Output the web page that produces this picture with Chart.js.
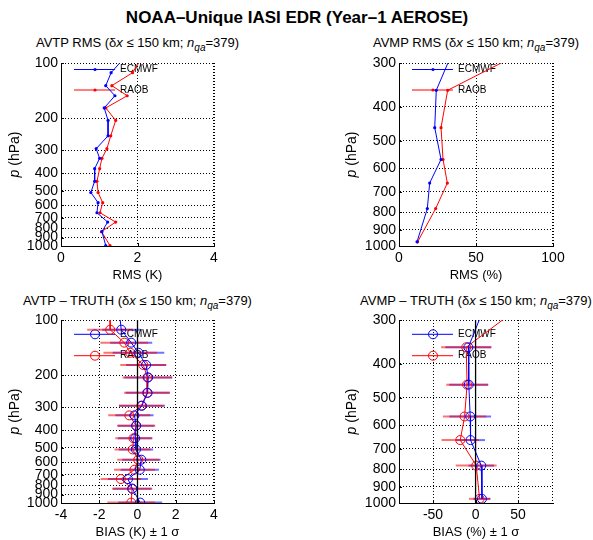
<!DOCTYPE html>
<html>
<head>
<meta charset="utf-8">
<script src="https://cdn.jsdelivr.net/npm/chart.js@4.4.1/dist/chart.umd.min.js"></script>
<style>
  body { margin: 0; background: #fff; font-family: 'Liberation Sans', Arial, sans-serif; }
  #page { position: relative; width: 593px; height: 540px; overflow: hidden; background: #fff; }
  canvas { position: absolute; }
  .ttl { position: absolute; font-size: 13px; white-space: nowrap; transform: translate(-50%, -50%); line-height: 16px; }
  .ttl sub { font-size: 10px; vertical-align: baseline; position: relative; top: 4px; }
  #main { position: absolute; left: 297px; top: 18px; transform: translate(-50%, -50%); font-weight: bold; font-size: 17px; white-space: nowrap; }
</style>
</head>
<body>
<div id="page">
  <div id="main">NOAA–Unique IASI EDR (Year–1 AEROSE)</div>
  <div class="ttl" style="left:137.5px;top:42.7px">AVTP RMS (δ<i>x</i> ≤ 150 km; <i>n</i><sub><i>qa</i></sub>=379)</div>
  <div class="ttl" style="left:476px;top:42.7px">AVMP RMS (δ<i>x</i> ≤ 150 km; <i>n</i><sub><i>qa</i></sub>=379)</div>
  <div class="ttl" style="left:137.5px;top:300.7px">AVTP – TRUTH (δ<i>x</i> ≤ 150 km; <i>n</i><sub><i>qa</i></sub>=379)</div>
  <div class="ttl" style="left:476px;top:300.7px">AVMP – TRUTH (δ<i>x</i> ≤ 150 km; <i>n</i><sub><i>qa</i></sub>=379)</div>
</div>
<script>
// pressure levels (hPa); first level sits above the plotted range and is clipped
const tLevels = [90, 113, 133, 151, 176, 206, 250, 294, 332, 378, 443, 510, 580, 658, 740, 835, 995];
const qLevels = [260, 359, 459, 566, 661, 782, 973];

// temperature RMS (K)
const tRmsEcmwf = [1.73, 1.31, 1.17, 1.41, 1.13, 1.23, 1.23, 0.92, 1.01, 0.88, 0.88, 0.78, 0.97, 0.94, 1.22, 1.07, 1.17];
const tRmsRaob  = [2.17, 1.87, 1.33, 1.73, 1.17, 1.43, 1.30, 1.20, 1.07, 1.01, 0.94, 0.97, 1.09, 1.02, 1.43, 1.06, 1.28];

// moisture RMS (%)
const qRmsEcmwf = [37.8, 24.2, 23.2, 27.3, 19.9, 18.4, 11.7];
const qRmsRaob  = [94.0, 31.6, 27.3, 28.6, 31.4, 23.8, 12.1];

// temperature bias (K) and 1 sigma
const tBiasEcmwf  = [-0.95, -0.85, -0.33, 0.05, 0.45, 0.56, 0.53, 0.23, -0.16, -0.07, -0.12, -0.08, 0.20, 0.12, -0.50, -0.27, 0.14];
const tBiasRaob   = [-1.43, -1.43, -0.69, -0.38, 0.30, 0.52, 0.50, 0.20, -0.43, -0.07, -0.21, -0.25, 0.04, -0.16, -0.87, -0.28, -0.33];
const tSigmaEcmwf = [1.00, 1.00, 1.10, 1.35, 1.05, 1.25, 1.15, 1.20, 1.00, 0.95, 0.90, 0.90, 1.00, 1.00, 1.05, 1.00, 1.15];
const tSigmaRaob  = [1.20, 1.20, 1.25, 1.40, 1.20, 1.30, 1.20, 1.17, 1.10, 1.00, 0.95, 0.95, 1.10, 1.07, 1.06, 1.05, 1.25];

// moisture bias (%) and 1 sigma
const qBiasEcmwf  = [14.5, -8.5, -8.0, -6.3, -5.9, 6.7, 7.5];
const qBiasRaob   = [65.7, -11.0, -10.0, -12.9, -18.0, 0.8, 4.7];
const qSigmaEcmwf = [20, 27, 23, 24.5, 17, 15, 10];
const qSigmaRaob  = [30, 29.5, 24.5, 25.5, 22, 24, 12.5];

const tTicks = [100, 200, 300, 400, 500, 600, 700, 800, 900, 1000];
const qTicks = [300, 400, 500, 600, 700, 800, 900, 1000];

const FONT = "'Liberation Sans', Arial, sans-serif";
Chart.defaults.font.family = FONT;
Chart.defaults.font.size = 14;
Chart.defaults.color = '#000';

const BLUE = '#0000ff';
const RED = '#ff0000';

function pts(levels, vals) {
    return levels.map((p, i) => ({ x: vals[i], y: p }));
}

// legend drawn inside the axes, behind the data
function legendPlugin(entries, circles) {
    return {
        id: 'inlegend',
        beforeDatasetsDraw(chart) {
            const { ctx, chartArea: a } = chart;
            ctx.save();
            entries.forEach((e) => {
                const y = a.top + e.dy;
                ctx.strokeStyle = e.color;
                ctx.lineWidth = 1;
                ctx.beginPath();
                ctx.moveTo(a.left + 13, y);
                ctx.lineTo(a.left + 54, y);
                ctx.stroke();
                ctx.beginPath();
                if (circles) {
                    ctx.arc(a.left + 34, y, 4.5, 0, Math.PI * 2);
                    ctx.stroke();
                } else {
                    ctx.fillStyle = e.color;
                    ctx.arc(a.left + 34, y, 1.6, 0, Math.PI * 2);
                    ctx.fill();
                }
                ctx.fillStyle = '#000';
                ctx.font = '10px ' + FONT;
                ctx.textBaseline = 'middle';
                ctx.fillText(e.label, a.left + 59, y);
            });
            ctx.restore();
        },
    };
}

function errorBarPlugin(sets) {
    return {
        id: 'errbars',
        beforeDatasetsDraw(chart) {
            const { ctx, chartArea: a, scales } = chart;
            ctx.save();
            ctx.beginPath();
            ctx.rect(a.left, a.top, a.width, a.height);
            ctx.clip();
            sets.forEach((s) => {
                ctx.strokeStyle = s.color;
                ctx.lineWidth = 2;
                s.levels.forEach((p, i) => {
                    const py = scales.y.getPixelForValue(p);
                    ctx.beginPath();
                    ctx.moveTo(scales.x.getPixelForValue(s.bias[i] - s.sigma[i]), py);
                    ctx.lineTo(scales.x.getPixelForValue(s.bias[i] + s.sigma[i]), py);
                    ctx.stroke();
                });
            });
            ctx.restore();
        },
    };
}

function framePlugin(yLabelX, zeroLine) {
    return {
        id: 'frame',
        afterDatasetsDraw(chart) {
            const { ctx, chartArea: a, scales } = chart;
            ctx.save();
            if (zeroLine) {
                const x0 = scales.x.getPixelForValue(0);
                ctx.strokeStyle = '#000';
                ctx.lineWidth = 1.3;
                ctx.beginPath();
                ctx.moveTo(x0, a.top);
                ctx.lineTo(x0, a.bottom);
                ctx.stroke();
            }
            ctx.strokeStyle = '#000';
            ctx.lineWidth = 1;
            // small inward ticks, matlab style
            ctx.beginPath();
            scales.y.ticks.forEach((t) => {
                const py = Math.round(scales.y.getPixelForValue(t.value)) + 0.5;
                ctx.moveTo(a.left, py);
                ctx.lineTo(a.left + 3, py);
            });
            scales.x.ticks.forEach((t) => {
                const px = Math.round(scales.x.getPixelForValue(t.value)) + 0.5;
                ctx.moveTo(px, a.bottom);
                ctx.lineTo(px, a.bottom - 3);
            });
            ctx.stroke();
            // dotted right edge
            ctx.setLineDash([1, 2]);
            ctx.beginPath();
            ctx.moveTo(a.right - 0.5, a.top);
            ctx.lineTo(a.right - 0.5, a.bottom);
            ctx.stroke();
            ctx.setLineDash([]);
            // y axis title: italic p + (hPa)
            ctx.translate(yLabelX, (a.top + a.bottom) / 2);
            ctx.rotate(-Math.PI / 2);
            ctx.textBaseline = 'middle';
            ctx.font = 'italic 14px ' + FONT;
            const w1 = ctx.measureText('p').width;
            ctx.font = '14px ' + FONT;
            const w2 = ctx.measureText(' (hPa)').width;
            const x = -(w1 + w2) / 2;
            ctx.font = 'italic 14px ' + FONT;
            ctx.fillText('p', x, 0);
            ctx.font = '14px ' + FONT;
            ctx.fillText(' (hPa)', x + w1, 0);
            ctx.restore();
        },
    };
}

function panel(p) {
    const cv = document.createElement('canvas');
    cv.width = p.w;
    cv.height = p.h;
    cv.style.left = p.left + 'px';
    cv.style.top = p.top + 'px';
    cv.style.width = p.w + 'px';
    cv.style.height = p.h + 'px';
    document.getElementById('page').appendChild(cv);

    const gridOpts = { color: '#000', lineWidth: 1, drawTicks: false };
    const borderOpts = { color: '#000', width: 1, dash: [1, 2] };

    return new Chart(cv, {
        type: 'scatter',
        data: { datasets: p.datasets },
        options: {
            responsive: false,
            animation: false,
            events: [],
            layout: { padding: { left: 0, top: p.padTop, right: p.padRight, bottom: 0 } },
            plugins: { legend: { display: false }, tooltip: { enabled: false } },
            scales: {
                x: {
                    type: 'linear',
                    min: p.xMin,
                    max: p.xMax,
                    afterBuildTicks: (s) => { s.ticks = p.xTicks.map((v) => ({ value: v })); },
                    afterFit: (s) => { s.height = p.xAxisH; },
                    ticks: { padding: 4, autoSkip: false, maxRotation: 0 },
                    grid: gridOpts,
                    border: borderOpts,
                    title: { display: true, text: p.xTitle, font: { size: 13 }, padding: 0 },
                },
                y: {
                    type: 'logarithmic',
                    reverse: true,
                    min: p.yMin,
                    max: 1000,
                    afterBuildTicks: (s) => { s.ticks = p.yTicks.map((v) => ({ value: v })); },
                    afterFit: (s) => { s.width = p.yAxisW; },
                    ticks: { padding: 3, autoSkip: false, callback: (v) => String(v) },
                    grid: gridOpts,
                    border: borderOpts,
                },
            },
        },
        plugins: p.plugins,
    });
}

function rmsSet(label, levels, vals, color) {
    return {
        label, data: pts(levels, vals), showLine: true,
        borderColor: color, backgroundColor: color, borderWidth: 1,
        pointRadius: 1.6, pointBackgroundColor: color, pointBorderWidth: 0,
    };
}
function biasSet(label, levels, vals, color) {
    return {
        label, data: pts(levels, vals), showLine: true,
        borderColor: color, backgroundColor: color, borderWidth: 1,
        pointRadius: 4.5, pointBackgroundColor: 'rgba(0,0,0,0)', pointBorderColor: color, pointBorderWidth: 1,
    };
}

const legTop = [{ label: 'ECMWF', color: BLUE, dy: 6.5 }, { label: 'RAOB', color: RED, dy: 27 }];
const legBot = [{ label: 'ECMWF', color: BLUE, dy: 14.3 }, { label: 'RAOB', color: RED, dy: 35.7 }];

// AVTP RMS
panel({
    left: 0, top: 50, w: 296, h: 233, padTop: 13, padRight: 82, yAxisW: 61, xAxisH: 37,
    xMin: 0, xMax: 4, xTicks: [0, 2, 4], xTitle: 'RMS (K)', yMin: 100, yTicks: tTicks,
    datasets: [rmsSet('ECMWF', tLevels, tRmsEcmwf, BLUE), rmsSet('RAOB', tLevels, tRmsRaob, RED)],
    plugins: [legendPlugin(legTop, false), framePlugin(15, false)],
});

// AVMP RMS
panel({
    left: 300, top: 50, w: 293, h: 233, padTop: 13, padRight: 40, yAxisW: 99, xAxisH: 37,
    xMin: 0, xMax: 100, xTicks: [0, 50, 100], xTitle: 'RMS (%)', yMin: 300, yTicks: qTicks,
    datasets: [rmsSet('ECMWF', qLevels, qRmsEcmwf, BLUE), rmsSet('RAOB', qLevels, qRmsRaob, RED)],
    plugins: [legendPlugin(legTop, false), framePlugin(52, false)],
});

// AVTP - TRUTH
panel({
    left: 0, top: 300, w: 296, h: 240, padTop: 20, padRight: 82, yAxisW: 61, xAxisH: 37,
    xMin: -4, xMax: 4, xTicks: [-4, -2, 0, 2, 4], xTitle: 'BIAS (K) ± 1 σ', yMin: 100, yTicks: tTicks,
    datasets: [biasSet('ECMWF', tLevels, tBiasEcmwf, BLUE), biasSet('RAOB', tLevels, tBiasRaob, RED)],
    plugins: [
        legendPlugin(legBot, true),
        errorBarPlugin([
            { levels: tLevels, bias: tBiasEcmwf, sigma: tSigmaEcmwf, color: 'rgba(0,0,255,0.55)' },
            { levels: tLevels, bias: tBiasRaob, sigma: tSigmaRaob, color: 'rgba(255,0,0,0.55)' },
        ]),
        framePlugin(15, true),
    ],
});

// AVMP - TRUTH
panel({
    left: 300, top: 300, w: 293, h: 240, padTop: 20, padRight: 40, yAxisW: 99, xAxisH: 37,
    xMin: -90, xMax: 91, xTicks: [-50, 0, 50], xTitle: 'BIAS (%) ± 1 σ', yMin: 300, yTicks: qTicks,
    datasets: [biasSet('ECMWF', qLevels, qBiasEcmwf, BLUE), biasSet('RAOB', qLevels, qBiasRaob, RED)],
    plugins: [
        legendPlugin(legBot, true),
        errorBarPlugin([
            { levels: qLevels, bias: qBiasEcmwf, sigma: qSigmaEcmwf, color: 'rgba(0,0,255,0.55)' },
            { levels: qLevels, bias: qBiasRaob, sigma: qSigmaRaob, color: 'rgba(255,0,0,0.55)' },
        ]),
        framePlugin(52, true),
    ],
});
</script>
</body>
</html>
